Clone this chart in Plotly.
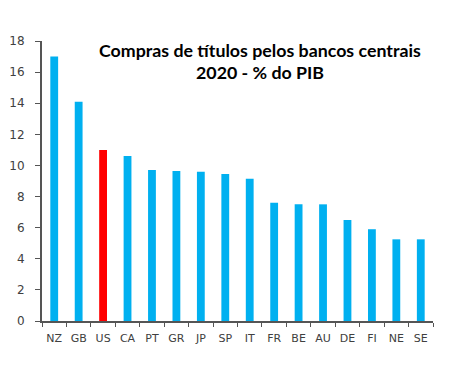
import plotly.graph_objects as go

countries = ["NZ", "GB", "US", "CA", "PT", "GR", "JP", "SP", "IT", "FR", "BE", "AU", "DE", "FI", "NE", "SE"]
values = [17.0, 14.1, 11.0, 10.6, 9.7, 9.65, 9.6, 9.45, 9.15, 7.6, 7.5, 7.5, 6.5, 5.9, 5.25, 5.25]
highlight = "US"
y_ticks = [0, 2, 4, 6, 8, 10, 12, 14, 16, 18]
title_lines = ["Compras de títulos pelos bancos centrais", "2020 - % do PIB"]

colors = ["#FF0000" if c == highlight else "#00B0F0" for c in countries]

fig = go.Figure(go.Bar(x=countries, y=values, marker=dict(color=colors, line=dict(width=0)), width=0.32))

fig.update_layout(
    width=462, height=375,
    margin=dict(l=34, r=37, t=33, b=62, autoexpand=False),
    paper_bgcolor="white", plot_bgcolor="white",
    showlegend=False,
    font=dict(family="DejaVu Sans", size=11, color="#404040"),
)
fig.update_xaxes(
    type="category", tickson="boundaries", ticks="outside", ticklen=4, tickcolor="#555",
    showline=True, linecolor="#555", linewidth=2, showgrid=False, tickangle=0,
    tickfont=dict(size=11, color="#404040"), range=[-0.5, len(countries) - 0.5],
    automargin=False, ticklabelstandoff=6,
)
fig.update_yaxes(
    range=[0, 18], tickvals=y_ticks, ticks="outside", ticklen=5, tickcolor="#555",
    showline=True, linecolor="#555", linewidth=2, showgrid=False, zeroline=False,
    tickfont=dict(size=12, color="#404040"), automargin=False, ticklabelstandoff=8,
)
for line, ypos in zip(title_lines, [0.968, 0.889]):
    fig.add_annotation(
        x=0.557, y=ypos, xref="paper", yref="paper", xanchor="center", yanchor="middle",
        text="<b>" + line + "</b>", showarrow=False,
        font=dict(family="Lato", size=17.8, color="black"), align="center",
    )
fig.write_html("out.html")
